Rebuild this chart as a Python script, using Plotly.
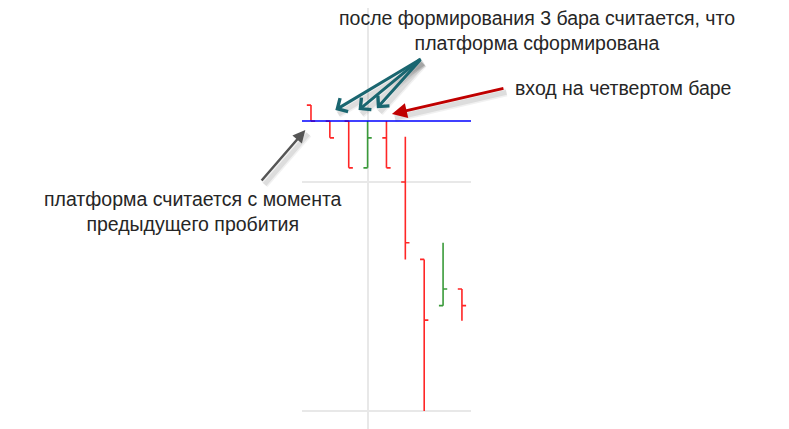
import plotly.graph_objects as go

# bars of the platform example (index, prices in arbitrary units)
bar_idx = [0, 1, 2, 3, 4, 5, 6, 7, 8]
opens = [133.6, 126.6, 126.6, 106.2, 119.3, 100.0, 66.2, 46.0, 53.3]
highs = [133.6, 126.6, 126.6, 126.6, 126.6, 119.8, 66.2, 73.5, 53.3]
lows = [126.6, 119.3, 106.2, 106.2, 106.2, 66.2, 0.0, 46.0, 39.4]
closes = [126.6, 119.3, 106.2, 119.3, 106.2, 73.5, 39.7, 53.3, 46.0]

breakout_level = 126.6  # blue line - previous breakout

grid_x = [3]
grid_y = [0, 100]

FONT = "Liberation Sans, Arial, sans-serif"
OFF = 8  # page body margin of the browser
W, H = 789 - OFF, 429 - OFF
L, R = 302 - OFF, 789 - 471

fig = go.Figure()
fig.add_trace(go.Ohlc(
    x=bar_idx, open=opens, high=highs, low=lows, close=closes,
    increasing=dict(line=dict(color="#3a9a3a", width=1.6)),
    decreasing=dict(line=dict(color="#ff2626", width=1.6)),
    tickwidth=0.22, hoverinfo="skip", showlegend=False,
))

fig.add_shape(type="line", xref="paper", x0=0, x1=1, yref="y",
              y0=breakout_level, y1=breakout_level,
              line=dict(color="#0000ff", width=1.5))


# screen pixel -> paper coords
def px(x):
    return (x - OFF - L) / (W - L - R)


def py(y):
    return (H - (y - OFF)) / H


# arrows: (head x, head y, tail dx, tail dy, color, width, head style)
arrows = [
    (1.29, 131.4, 87, -52, "#1a6670", 3, 4),
    (2.52, 131.4, 63, -52, "#1a6670", 3, 4),
    (3.49, 132.2, 45, -50, "#1a6670", 3, 4),
    (4.29, 129.7, 113, -26, "#c00000", 3, 2),
    (-0.30, 122.7, -45, 52, "#555555", 2.5, 2),
]
# soft shadow first (no head), then the arrow
for extra, alpha in [(5, 0.05), (2, 0.08)]:
    for hx, hy, ax, ay, col, w, head in arrows:
        fig.add_annotation(x=hx + 3 / 18.9, y=hy - 4 / 2.29, ax=ax, ay=ay, text="",
                           showarrow=True, arrowhead=0, arrowwidth=w + extra,
                           arrowcolor=f"rgba(0,0,0,{alpha})")
for hx, hy, ax, ay, col, w, head in arrows:
    fig.add_annotation(x=hx, y=hy, ax=ax, ay=ay, text="",
                       showarrow=True, arrowhead=head, arrowsize=1,
                       arrowwidth=w, arrowcolor=col)

texts = [
    (537, 31, "после формирования 3 бара считается, что<br>платформа сформирована", "center"),
    (513, 88, "вход на четвертом баре", "left"),
    (193, 211, "платформа считается с момента<br>предыдущего пробития", "center"),
]
for tx, ty, t, xa in texts:
    fig.add_annotation(xref="paper", yref="paper", x=px(tx), y=py(ty), text=t,
                       showarrow=False, xanchor=xa, yanchor="middle", align="center",
                       font=dict(family=FONT, size=19.5, color="#262626"))

fig.update_layout(
    width=W, height=H,
    margin=dict(l=L, r=R, t=0, b=0),
    paper_bgcolor="white", plot_bgcolor="white",
    font=dict(family=FONT),
    xaxis=dict(range=[-0.476, 8.48], tickvals=grid_x, showticklabels=False,
               showgrid=True, gridcolor="#e8e8e8", gridwidth=1.5,
               zeroline=False, showline=False, rangeslider=dict(visible=False)),
    yaxis=dict(range=[-7.86, 176.0], tickvals=grid_y, showticklabels=False,
               showgrid=True, gridcolor="#e8e8e8", gridwidth=1.5,
               zeroline=False, showline=False),
)

fig.write_html("out.html")
